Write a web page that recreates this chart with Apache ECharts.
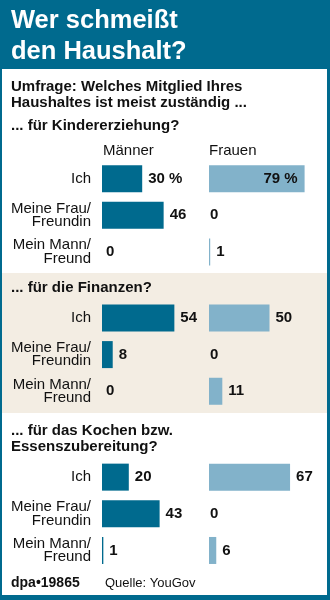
<!DOCTYPE html>
<html>
<head>
<meta charset="utf-8">
<script src="https://cdn.jsdelivr.net/npm/echarts@6/dist/echarts.min.js"></script>
<style>html,body{margin:0;padding:0;background:#fff}#c{width:330px;height:600px}</style>
</head>
<body>
<div id="c"></div>
<script>
// ---- data ----
const titleLines = ['Wer schmeißt', 'den Haushalt?'];
const subtitleLines = ['Umfrage: Welches Mitglied Ihres', 'Haushaltes ist meist zuständig ...'];
const columnHeaders = ['Männer', 'Frauen'];
const categories = ['Ich', 'Meine Frau/\nFreundin', 'Mein Mann/\nFreund'];
const sectionTitles = [['... für Kindererziehung?'], ['... für die Finanzen?'], ['... für das Kochen bzw.', 'Essenszubereitung?']];
const menKinder = [30, 46, 0];
const womenKinder = [79, 0, 1];
const menFinanzen = [54, 8, 0];
const womenFinanzen = [50, 0, 11];
const menKochen = [20, 43, 1];
const womenKochen = [67, 0, 6];
const sourceText = 'Quelle: YouGov';
const creditText = 'dpa\u202219865';

// ---- styles ----
const FONT = '"Liberation Sans", Arial, Helvetica, sans-serif';
const BLUE = '#006a8e';
const MEN = '#006a8e';
const WOMEN = '#82b2ca';
const BEIGE = '#f3ede3';
const TXT = '#111';

const menData = [menKinder, menFinanzen, menKochen];
const womenData = [womenKinder, womenFinanzen, womenKochen];
const gridTops = [160.3, 299.6, 458.8];
const gridH = 110;
const menLeft = 102, womenLeft = 209, axisW = 134, axisMax = 100;

const grids = [], xAxes = [], yAxes = [], series = [];
function buildItems(values, sectionIdx, isWomen) {
  return values.map((v, i) => {
    const item = { value: v };
    const lbl = {};
    if (v === 0) lbl.distance = isWomen ? 1 : 4;
    if (sectionIdx === 0 && i === 0) {
      lbl.formatter = '{c} %';
      if (isWomen) { lbl.position = 'insideRight'; lbl.distance = 7; }
    }
    item.label = lbl;
    return item;
  });
}
for (let s = 0; s < 3; s++) {
  [[menLeft, menData[s], false], [womenLeft, womenData[s], true]].forEach(([left, vals, isW]) => {
    const gi = grids.length;
    grids.push({ left: left, top: gridTops[s], width: axisW, height: gridH, containLabel: false });
    xAxes.push({ type: 'value', gridIndex: gi, min: 0, max: axisMax, show: false });
    yAxes.push({
      type: 'category', gridIndex: gi, data: categories, inverse: true,
      axisLine: { show: false }, axisTick: { show: false }, splitLine: { show: false },
      axisLabel: isW ? { show: false } : {
        show: true, margin: 11, fontFamily: FONT, fontSize: 15, lineHeight: 13.5,
        color: TXT, align: 'right'
      }
    });
    series.push({
      type: 'bar', xAxisIndex: gi, yAxisIndex: gi, barWidth: 27,
      itemStyle: { color: isW ? WOMEN : MEN },
      label: { show: true, position: 'right', distance: 6, fontFamily: FONT, fontSize: 15, fontWeight: 'bold', color: TXT },
      data: buildItems(vals, s, isW),
      animation: false, silent: true
    });
  });
}

function txt(x, y, text, size, weight, color, extra) {
  return Object.assign({ type: 'text', x: x, y: y, silent: true,
    style: { text: text, fontFamily: FONT, fontSize: size, fontWeight: weight, fill: color, verticalAlign: 'middle', align: 'left' } }, extra || {});
}
const graphics = [
  { type: 'rect', shape: { x: 0, y: 0, width: 330, height: 69 }, style: { fill: BLUE }, silent: true },
  { type: 'rect', shape: { x: 2, y: 273, width: 325, height: 140 }, style: { fill: BEIGE }, silent: true },
  { type: 'rect', shape: { x: 0, y: 0, width: 2, height: 600 }, style: { fill: BLUE }, silent: true },
  { type: 'rect', shape: { x: 327, y: 0, width: 3, height: 600 }, style: { fill: BLUE }, silent: true },
  { type: 'rect', shape: { x: 0, y: 595, width: 330, height: 5 }, style: { fill: BLUE }, silent: true },
  txt(11, 21, titleLines[0], 25.5, 'bold', '#fff'),
  txt(11, 52, titleLines[1], 25.5, 'bold', '#fff'),
  txt(11, 86.5, subtitleLines[0], 15, 'bold', TXT),
  txt(11, 103, subtitleLines[1], 15, 'bold', TXT),
  txt(11, 126, sectionTitles[0][0], 15, 'bold', TXT),
  txt(11, 288, sectionTitles[1][0], 15, 'bold', TXT),
  txt(11, 431, sectionTitles[2][0], 15, 'bold', TXT),
  txt(11, 446.5, sectionTitles[2][1], 15, 'bold', TXT),
  txt(103, 151, columnHeaders[0], 15, 'normal', TXT),
  txt(209, 151, columnHeaders[1], 15, 'normal', TXT),
  txt(11, 583, creditText, 14, 'bold', TXT),
  txt(105, 583, sourceText, 13, 'normal', TXT)
];

const chart = echarts.init(document.getElementById('c'), null, { renderer: 'canvas' });
chart.setOption({
  animation: false,
  backgroundColor: '#fff',
  grid: grids, xAxis: xAxes, yAxis: yAxes, series: series,
  graphic: { elements: graphics }
});
</script>
</body>
</html>
